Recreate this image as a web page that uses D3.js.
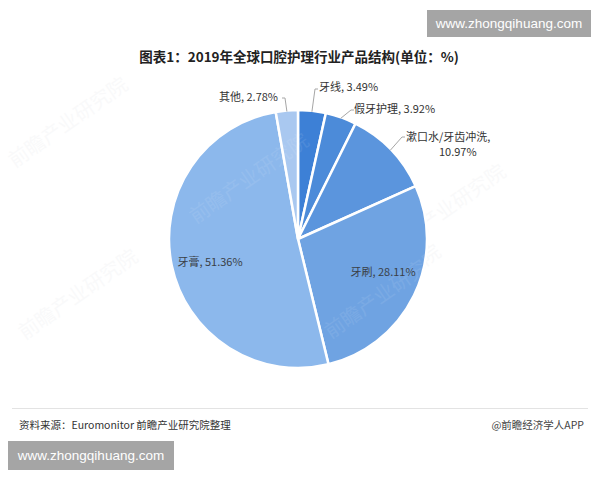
<!DOCTYPE html>
<html>
<head>
<meta charset="utf-8">
<script src="https://cdn.jsdelivr.net/npm/d3@7"></script>
<style>
  html, body { margin: 0; padding: 0; background: #fff; }
  svg { display: block; font-family: "Noto Sans CJK SC", "Noto Sans", sans-serif; }
</style>
</head>
<body>
<svg id="chart" width="600" height="480"></svg>
<script>
// Product categories and their share of the 2019 global oral-care market (%)
const categories = ["牙线", "假牙护理", "漱口水/牙齿冲洗", "牙刷", "牙膏", "其他"];
const shares = [3.49, 3.92, 10.97, 28.11, 51.36, 2.78];
const sliceColors = ["#3d80d6", "#4c8bd9", "#5b95dd", "#6fa3e2", "#8cb8ec", "#a9c8f0"];

const titleText = "图表1：2019年全球口腔护理行业产品结构(单位：%)";
const sourceText = "资料来源：Euromonitor 前瞻产业研究院整理";
const creditText = "@前瞻经济学人APP";
const siteText = "www.zhongqihuang.com";
const watermarkText = "前瞻产业研究院";

const svg = d3.select("#chart");
const cx = 298, cy = 239, R = 129;

// faint background watermarks
const marks = [[72, 128], [82, 300], [250, 180], [385, 295], [450, 215]];
svg.append("g").selectAll("text").data(marks).join("text")
  .attr("transform", d => `translate(${d[0]},${d[1]}) rotate(-35)`)
  .attr("text-anchor", "middle")
  .attr("font-size", 20)
  .attr("fill", "#9aa3ad")
  .attr("opacity", 0.055)
  .text(watermarkText);

// title
svg.append("text")
  .attr("x", 299).attr("y", 62)
  .attr("text-anchor", "middle")
  .attr("font-size", 13.5).attr("font-weight", "bold")
  .attr("fill", "#222")
  .text(titleText);

const data = categories.map((c, i) => ({ name: c, value: shares[i], color: sliceColors[i] }));

const pie = d3.pie().value(d => d.value).sort(null).startAngle(0).endAngle(2 * Math.PI);
const arcs = pie(data);
const arc = d3.arc().innerRadius(0).outerRadius(R);

const g = svg.append("g").attr("transform", `translate(${cx},${cy})`);
g.selectAll("path").data(arcs).join("path")
  .attr("d", arc)
  .attr("fill", d => d.data.color)
  .attr("stroke", "#fff")
  .attr("stroke-width", 2.5)
  .attr("stroke-linejoin", "round");

// soft watermark over the pie
g.append("g").selectAll("text").data([[-45, -55], [90, 60]]).join("text")
  .attr("transform", d => `translate(${d[0]},${d[1]}) rotate(-35)`)
  .attr("text-anchor", "middle")
  .attr("font-size", 20)
  .attr("fill", "#ffffff")
  .attr("opacity", 0.08)
  .text(watermarkText);

const fmt = v => `${v.toFixed(2)}%`;

// label placement: inside labels for the two large slices, leader lines for the rest
const labelLayout = {
  "牙线":   { mode: "out", elbow: [17, -150], text: [21, -148], anchor: "start" },
  "假牙护理": { mode: "out", elbow: [53, -129], text: [56, -126], anchor: "start" },
  "漱口水/牙齿冲洗": { mode: "out", elbow: [104, -102], text: [108, -98], anchor: "start", wrap: true },
  "牙刷":   { mode: "in", pos: [85, 37] },
  "牙膏":   { mode: "in", pos: [-88, 27] },
  "其他":   { mode: "out", elbow: [-13, -141], text: [-20, -138], anchor: "end" }
};

const labelG = g.append("g").attr("font-size", 11).attr("fill", "#333");
arcs.forEach(a => {
  const L = labelLayout[a.data.name];
  const label = `${a.data.name}, ${fmt(a.data.value)}`;
  if (L.mode === "in") {
    labelG.append("text")
      .attr("x", L.pos[0]).attr("y", L.pos[1])
      .attr("text-anchor", "middle")
      .attr("fill", "#3a3f47")
      .text(label);
  } else {
    const mid = (a.startAngle + a.endAngle) / 2;
    const p0 = [Math.sin(mid) * (R - 1), -Math.cos(mid) * (R - 1)];
    const tickEnd = [L.elbow[0] + (L.anchor === "start" ? 3 : -3), L.elbow[1]];
    labelG.append("path")
      .attr("d", d3.line()([p0, L.elbow, tickEnd]))
      .attr("fill", "none")
      .attr("stroke", "#a6a6a6")
      .attr("stroke-width", 1);
    if (L.wrap) {
      const t = labelG.append("text")
        .attr("x", L.text[0]).attr("y", L.text[1])
        .attr("text-anchor", "start");
      t.append("tspan").text(`${a.data.name},`);
      t.append("tspan").attr("x", L.text[0] + 33).attr("dy", 15).text(fmt(a.data.value));
    } else {
      labelG.append("text")
        .attr("x", L.text[0]).attr("y", L.text[1])
        .attr("text-anchor", L.anchor)
        .text(label);
    }
  }
});

// footer divider and sources
svg.append("line")
  .attr("x1", 12).attr("x2", 588).attr("y1", 408.5).attr("y2", 408.5)
  .attr("stroke", "#e3e3e3").attr("stroke-width", 1);
svg.append("text")
  .attr("x", 19).attr("y", 429)
  .attr("font-size", 10.5).attr("fill", "#333")
  .text(sourceText);
svg.append("text")
  .attr("x", 584).attr("y", 429)
  .attr("text-anchor", "end")
  .attr("font-size", 10.5).attr("fill", "#444")
  .text(creditText);

// site badges
const badges = [[427, 10, 164, 27], [8, 441, 166, 29]];
const bg = svg.append("g");
badges.forEach(b => {
  bg.append("rect")
    .attr("x", b[0]).attr("y", b[1]).attr("width", b[2]).attr("height", b[3])
    .attr("fill", "#a5a5a5");
  bg.append("text")
    .attr("x", b[0] + b[2] / 2).attr("y", b[1] + b[3] / 2 + 4.5)
    .attr("text-anchor", "middle")
    .attr("font-family", "'Liberation Sans', Arial, sans-serif")
    .attr("font-size", 13.5)
    .attr("fill", "#fff")
    .text(siteText);
});
</script>
</body>
</html>
